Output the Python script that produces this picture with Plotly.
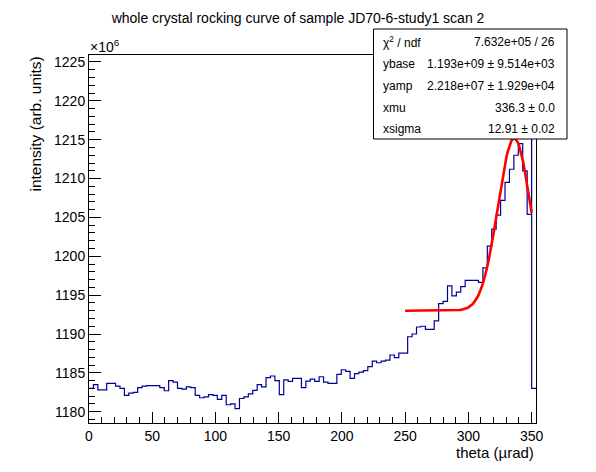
import plotly.graph_objects as go
import numpy as np

# ---- data (intensity in units of 1e6) ----
bin_width = 3.5          # theta bin width (urad)
theta_min = 0.0
counts = [
    1183.0, 1183.5, 1182.8, 1182.8, 1183.65, 1183.65, 1183.3, 1183.0, 1182.1, 1182.4,
    1182.5, 1183.1, 1183.3, 1183.35, 1183.35, 1183.35, 1183.1, 1182.7, 1184.0, 1183.8,
    1183.0, 1182.9, 1183.2, 1183.1, 1182.1, 1181.8, 1181.9, 1182.2, 1182.1, 1181.6,
    1182.1, 1180.9, 1181.0, 1180.4, 1181.7, 1181.9, 1182.3, 1182.75, 1183.5, 1183.2,
    1184.4, 1184.6, 1184.0, 1182.2, 1184.1, 1183.9, 1184.3, 1184.3, 1183.1, 1183.95,
    1184.2, 1183.9, 1184.5, 1183.8, 1183.65, 1183.65, 1184.8, 1185.4, 1185.2, 1184.3,
    1184.9, 1185.1, 1185.3, 1185.8, 1186.5, 1186.3, 1186.5, 1186.65, 1187.3, 1186.95,
    1187.55, 1187.55, 1189.65, 1190.0, 1190.9, 1191.0, 1190.6, 1190.6, 1191.7, 1193.9,
    1194.2, 1196.2, 1194.9, 1195.4, 1196.1, 1196.9, 1196.9, 1196.9, 1196.65, 1198.5,
    1201.3, 1203.5, 1205.3, 1207.2, 1209.5, 1211.2, 1213.0, 1214.5, 1211.0, 1205.4,
    1183.0,
]
spike_theta = 350.0      # off-scale spike at the edge of the last bin
spike_value = 1240.0

# fit parameters (gaussian + constant), as shown in the stats box
fit_ybase = 1193.0
fit_yamp = 22.18
fit_xmu = 336.3
fit_xsigma = 12.91
fit_range = [250.0, 350.0]

stats_labels = ["χ<sup>2</sup> / ndf", "ybase", "yamp", "xmu", "xsigma"]
stats_values = ["7.632e+05 / 26", "1.193e+09 ± 9.514e+03", "2.218e+07 ± 1.929e+04",
                "336.3 ± 0.0", "12.91 ± 0.02"]

# ---- build step outline ----
edges = [theta_min + i * bin_width for i in range(len(counts) + 1)]
hx, hy = [], []
for i, c in enumerate(counts):
    if i == len(counts) - 1:
        hx += [spike_theta, spike_theta + 0.05]
        hy += [spike_value, c]
    else:
        hx.append(edges[i])
        hy.append(c)
hx.append(edges[-1])
hy.append(counts[-1])

fx = np.linspace(fit_range[0], fit_range[1], 101)
fy = fit_ybase + fit_yamp * np.exp(-0.5 * ((fx - fit_xmu) / fit_xsigma) ** 2)

FONT = "Liberation Sans, Arial, Helvetica, sans-serif"

fig = go.Figure()
fig.add_trace(go.Scatter(x=hx, y=hy, mode="lines", line=dict(shape="hv", color="#000099", width=1.2),
                         hoverinfo="skip", showlegend=False))
fig.add_trace(go.Scatter(x=fx, y=fy, mode="lines", line=dict(color="#ff0000", width=2.6),
                         hoverinfo="skip", showlegend=False))

L, R, T, B = 89, 60, 55, 49
W, H = 596, 472
pw, ph = W - L - R, H - T - B

def px(x):
    return (x - L) / pw

def py(y):
    return (H - B - y) / ph

axis_common = dict(showgrid=False, zeroline=False, showline=True, linecolor="black", linewidth=1,
                   mirror=True, ticks="inside", tickcolor="black", tickwidth=1,
                   tickfont=dict(family=FONT, size=14, color="black"))

fig.update_layout(
    width=W, height=H,
    margin=dict(l=L, r=R, t=T, b=B),
    paper_bgcolor="white", plot_bgcolor="white",
    xaxis=dict(range=[0, 353.5], tick0=0, dtick=50, ticklen=11,
               minor=dict(ticks="inside", ticklen=6, dtick=10, tickcolor="black"),
               **axis_common),
    yaxis=dict(range=[1178.55, 1225.9], tick0=1180, dtick=5, ticklen=12,
               minor=dict(ticks="inside", ticklen=6, dtick=1, tickcolor="black"),
               **axis_common),
    title=dict(text="whole crystal rocking curve of sample JD70-6-study1 scan 2",
               x=0.5, xanchor="center", y=1 - 18 / H, yanchor="middle",
               font=dict(family=FONT, size=14, color="black")),
)

ann = []
ann.append(dict(text="intensity (arb. units)", textangle=-90, x=px(35), y=1.0,
                xref="paper", yref="paper", xanchor="center", yanchor="top", showarrow=False,
                font=dict(family=FONT, size=15.5, color="black")))
ann.append(dict(text="theta (µrad)", x=1.0, y=py(452), xref="paper", yref="paper",
                xanchor="right", yanchor="middle", showarrow=False,
                font=dict(family=FONT, size=15, color="black")))
ann.append(dict(text="×10<sup>6</sup>", x=px(88), y=py(46), xref="paper", yref="paper",
                xanchor="left", yanchor="middle", showarrow=False,
                font=dict(family=FONT, size=14, color="black")))

# stats box
fig.add_shape(type="rect", xref="paper", yref="paper", x0=px(373.5), x1=px(567),
              y0=py(139), y1=py(29), line=dict(color="black", width=1), fillcolor="white",
              layer="above")
row_y = [42, 64, 86, 107.5, 129]
for lab, val, yy in zip(stats_labels, stats_values, row_y):
    ann.append(dict(text=lab, x=px(381), y=py(yy), xref="paper", yref="paper", xanchor="left",
                    yanchor="middle", showarrow=False, font=dict(family=FONT, size=12, color="black")))
    ann.append(dict(text=val, x=px(557), y=py(yy), xref="paper", yref="paper", xanchor="right",
                    yanchor="middle", showarrow=False, font=dict(family=FONT, size=12, color="black")))
fig.update_layout(annotations=ann)

fig.write_html("out.html", config={"displayModeBar": False},
               post_script="document.body.style.margin='0';")
